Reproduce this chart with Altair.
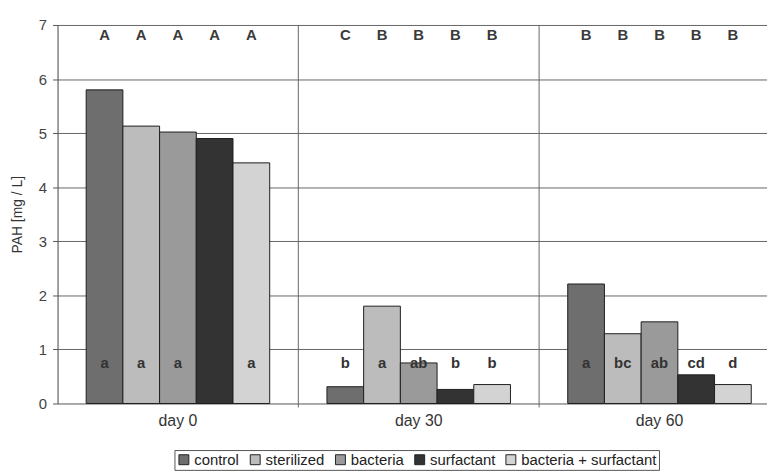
import altair as alt
import pandas as pd

days = ["day 0", "day 30", "day 60"]
treatments = ["control", "sterilized", "bacteria", "surfactant", "bacteria + surfactant"]
colors = ["#6e6e6e", "#bcbcbc", "#9a9a9a", "#333333", "#d3d3d3"]

# PAH values per treatment across day 0 / day 30 / day 60
control = [5.80, 0.31, 2.21]
sterilized = [5.13, 1.80, 1.29]
bacteria = [5.02, 0.75, 1.51]
surfactant = [4.90, 0.26, 0.53]
bact_surf = [4.45, 0.35, 0.35]

# significance letters (upper: between days, lower: between treatments)
upper_control = ["A", "C", "B"]
upper_sterilized = ["A", "B", "B"]
upper_bacteria = ["A", "B", "B"]
upper_surfactant = ["A", "B", "B"]
upper_bact_surf = ["A", "B", "B"]

lower_control = ["a", "b", "a"]
lower_sterilized = ["a", "a", "bc"]
lower_bacteria = ["a", "ab", "ab"]
lower_surfactant = ["a", "b", "cd"]
lower_bact_surf = ["a", "b", "d"]

series = [control, sterilized, bacteria, surfactant, bact_surf]
uppers = [upper_control, upper_sterilized, upper_bacteria, upper_surfactant, upper_bact_surf]
lowers = [lower_control, lower_sterilized, lower_bacteria, lower_surfactant, lower_bact_surf]

rows = []
for t, vals, up, lo in zip(treatments, series, uppers, lowers):
    for d, v, u, l in zip(days, vals, up, lo):
        rows.append({"day": d, "treatment": t, "value": v, "upper": u, "lower": l})
df = pd.DataFrame(rows)
div_df = pd.DataFrame({"day": days[1:]})

W, H = 716, 382
FONT = "Liberation Sans"

x_scale = alt.Scale(paddingInner=0, paddingOuter=0, range=[0, 729])
x_enc = alt.X("day:N", sort=days, scale=x_scale,
              axis=alt.Axis(title=None, labelFontSize=16, labelColor="#333", domain=False,
                            ticks=False, labelPadding=9, labelFont=FONT, labelAngle=0))
xo_enc = alt.XOffset("treatment:N", sort=treatments,
                     scale=alt.Scale(paddingInner=0, paddingOuter=0.78))

base = alt.Chart(df)

bars = base.mark_bar(stroke="#1e1e1e", strokeWidth=1, opacity=1).encode(
    x=x_enc,
    xOffset=xo_enc,
    y=alt.Y("value:Q", scale=alt.Scale(domain=[0, 7], nice=False),
            axis=alt.Axis(values=list(range(8)), format="d", title="PAH [mg / L]",
                          titleFontSize=14, titleFontWeight="normal", titleColor="#333",
                          titleFont=FONT, titlePadding=14, labelFontSize=15,
                          labelColor="#444", labelFont=FONT, labelPadding=6, tickSize=5,
                          tickColor="#555", domainColor="#555",
                          grid=True, gridColor="#666", gridWidth=1)),
    color=alt.Color("treatment:N", sort=treatments,
                    scale=alt.Scale(domain=treatments, range=colors),
                    legend=alt.Legend(title=None, orient="none", direction="horizontal",
                                      legendX=118, legendY=429, symbolType="square",
                                      symbolSize=100, symbolStrokeColor="#222",
                                      symbolStrokeWidth=1, labelFontSize=15, labelFont=FONT,
                                      labelColor="#222", labelOffset=3, columnPadding=8,
                                      padding=2, strokeColor="#555", fillColor="white")),
)

dividers = alt.Chart(div_df).mark_rule(color="#666", strokeWidth=1).encode(
    x=alt.X("day:N", sort=days, bandPosition=0),
    y=alt.value(0),
    y2=alt.value(H + 4),
)

upper_txt = base.mark_text(fontSize=15, fontWeight="bold", color="#3a3a3a", font=FONT,
                           baseline="middle").encode(
    x=x_enc, xOffset=xo_enc, y=alt.datum(6.81), text="upper:N")

lower_txt = base.mark_text(fontSize=15, fontWeight="bold", color="#333", font=FONT,
                           baseline="middle").encode(
    x=x_enc, xOffset=xo_enc, y=alt.datum(0.75), text="lower:N")

chart = alt.layer(bars, dividers, upper_txt, lower_txt).properties(
    width=W, height=H,
    autosize=alt.AutoSizeParams(type="none"),
    padding={"left": 50, "top": 15, "right": 0, "bottom": 66},
).configure_view(stroke=None).configure(background="white")

chart.save("out.html", embed_options={"renderer": "svg", "actions": False})
